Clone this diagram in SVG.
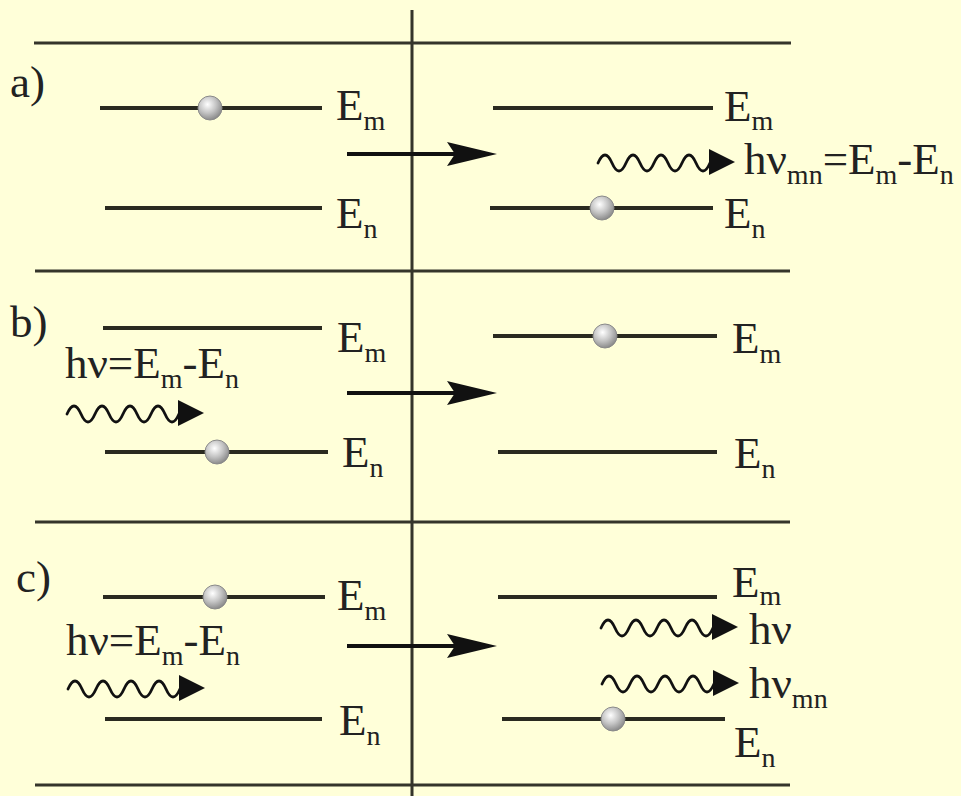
<svg xmlns="http://www.w3.org/2000/svg" xmlns:xlink="http://www.w3.org/1999/xlink" width="961" height="796" viewBox="0 0 961 796">
<style>
.frame{stroke:#35352b;stroke-width:3;fill:none}
.lvl{stroke:#2a2a20;stroke-width:4;fill:none}
.arr{stroke:#111;stroke-width:4;fill:none}
.wv{stroke:#111;stroke-width:2.8;fill:none;stroke-linecap:round}
.head{fill:#111}
text{font-family:"Liberation Serif","Times New Roman",serif;font-size:45px;fill:#222}
.sub{font-size:28px}
.ball{fill:url(#g);stroke:#8a8a8a;stroke-width:1}
</style>
<defs>
<radialGradient id="g" cx="0.4" cy="0.35" r="0.65">
<stop offset="0" stop-color="#ffffff"/>
<stop offset="0.55" stop-color="#c4c4c4"/>
<stop offset="1" stop-color="#8c8c8c"/>
</radialGradient>
<g id="wave">
<path class="wv" d="M0,7 q7,-16 14,0 t14,0 t14,0 t14,0 t14,0 t14,0 t14,0 t14,0 l2,0"/>
<path class="head" d="M137,6 L111,-7 L111,19 Z"/>
</g>
<g id="bigarrow">
<line class="arr" x1="0" y1="0" x2="110" y2="0"/>
<path class="head" d="M150,0 L100,-12 L108,0 L100,12 Z"/>
</g>
</defs>
<rect width="961" height="796" fill="#ffffd9"/>
<g id="frame">
<line class="frame" x1="412" y1="10" x2="412" y2="796"/>
<line class="frame" x1="34" y1="43" x2="791" y2="43"/>
<line class="frame" x1="35" y1="271" x2="790" y2="271"/>
<line class="frame" x1="35" y1="522" x2="790" y2="522"/>
<line class="frame" x1="35" y1="785" x2="790" y2="785"/>
</g>
<g id="panel-a-before">
<text x="10" y="97">a)</text>
<line class="lvl" x1="100" y1="108" x2="322" y2="108"/>
<circle class="ball" cx="210" cy="108" r="12"/>
<text x="336" y="120">E<tspan class="sub" dy="10">m</tspan></text>
<line class="lvl" x1="105" y1="208" x2="322" y2="208"/>
<text x="336" y="228">E<tspan class="sub" dy="10">n</tspan></text>
</g>
<g id="panel-a-after">
<line class="lvl" x1="493" y1="108" x2="713" y2="108"/>
<text x="724" y="121">E<tspan class="sub" dy="9">m</tspan></text>
<line class="lvl" x1="490" y1="208" x2="713" y2="208"/>
<circle class="ball" cx="602" cy="208" r="12"/>
<text x="724" y="228">E<tspan class="sub" dy="10">n</tspan></text>
<text x="744" y="174">hν<tspan class="sub" dy="10">mn</tspan><tspan dy="-10">=E</tspan><tspan class="sub" dy="10">m</tspan><tspan dy="-10">-E</tspan><tspan class="sub" dy="10">n</tspan></text>
</g>
<g id="panel-b-before">
<text x="10" y="337">b)</text>
<line class="lvl" x1="103" y1="328" x2="322" y2="328"/>
<text x="337" y="352">E<tspan class="sub" dy="10">m</tspan></text>
<text x="65" y="378">hν=E<tspan class="sub" dy="10">m</tspan><tspan dy="-10">-E</tspan><tspan class="sub" dy="10">n</tspan></text>
<line class="lvl" x1="105" y1="452" x2="328" y2="452"/>
<circle class="ball" cx="217" cy="452" r="12"/>
<text x="342" y="467">E<tspan class="sub" dy="10">n</tspan></text>
</g>
<g id="panel-b-after">
<line class="lvl" x1="493" y1="336" x2="717" y2="336"/>
<circle class="ball" cx="605" cy="336" r="12"/>
<text x="732" y="353">E<tspan class="sub" dy="10">m</tspan></text>
<line class="lvl" x1="498" y1="452" x2="717" y2="452"/>
<text x="734" y="468">E<tspan class="sub" dy="10">n</tspan></text>
</g>
<g id="panel-c-before">
<text x="16" y="592">c)</text>
<line class="lvl" x1="103" y1="597" x2="325" y2="597"/>
<circle class="ball" cx="215" cy="597" r="12"/>
<text x="337" y="610">E<tspan class="sub" dy="10">m</tspan></text>
<text x="66" y="655">hν=E<tspan class="sub" dy="10">m</tspan><tspan dy="-10">-E</tspan><tspan class="sub" dy="10">n</tspan></text>
<line class="lvl" x1="105" y1="719" x2="322" y2="719"/>
<text x="339" y="735">E<tspan class="sub" dy="10">n</tspan></text>
</g>
<g id="panel-c-after">
<line class="lvl" x1="498" y1="597" x2="717" y2="597"/>
<text x="732" y="597">E<tspan class="sub" dy="8">m</tspan></text>
<text x="749" y="644">hν</text>
<text x="749" y="698">hν<tspan class="sub" dy="10">mn</tspan></text>
<line class="lvl" x1="502" y1="719" x2="725" y2="719"/>
<circle class="ball" cx="613" cy="719" r="12"/>
<text x="734" y="757">E<tspan class="sub" dy="10">n</tspan></text>
</g>
<g id="connectors">
<use xlink:href="#bigarrow" x="347" y="154"/>
<use xlink:href="#bigarrow" x="347" y="393"/>
<use xlink:href="#bigarrow" x="347" y="646"/>
<use xlink:href="#wave" x="598" y="156"/>
<use xlink:href="#wave" x="67" y="407"/>
<use xlink:href="#wave" x="68" y="682"/>
<use xlink:href="#wave" x="601" y="621"/>
<use xlink:href="#wave" x="602" y="677"/>
</g>
</svg>
